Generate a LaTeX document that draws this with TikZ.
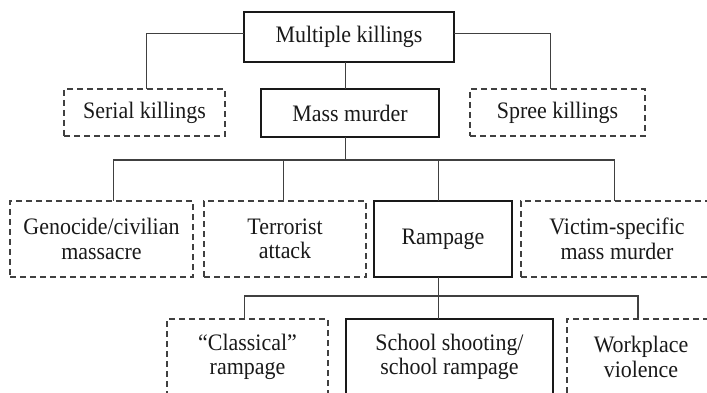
\documentclass[tikz,border=0pt]{standalone}
\usepackage{fontspec}
\setmainfont{Liberation Serif}[FakeStretch=0.93]
\begin{document}
\begin{tikzpicture}[x=1pt,y=-1pt,
  every node/.style={inner sep=0pt,outer sep=0pt,align=center,text=black!90,
    font=\fontsize{23.6}{24.5}\selectfont},
  mainbox/.style={draw=black!90,line width=2.6pt},
  subbox/.style={draw=black!75,line width=1.1pt,dash pattern=on 6pt off 4pt},
  conn/.style={draw=black!75,line width=1.2pt}]
\useasboundingbox (0,0) rectangle (707,393);
\clip (0,0) rectangle (707,393);
% row 1
\node[mainbox,minimum width=210pt,minimum height=50pt] (mk) at (349,37) {Multiple killings};
% row 2
\node[subbox,minimum width=161pt,minimum height=47pt] (sk) at (144.5,112.5) {Serial killings};
\node[mainbox,minimum width=178pt,minimum height=48pt] (mm) at (350,113) {Mass murder};
\node[subbox,minimum width=175pt,minimum height=47pt] (spk) at (557.5,112.5) {Spree killings};
% row 3
\node[subbox,minimum width=183pt,minimum height=76pt] (gen) at (101.5,239) {Genocide/civilian\\massacre};
\node[subbox,minimum width=162pt,minimum height=76pt] (ter) at (285,239) {Terrorist\\attack};
\node[mainbox,minimum width=138pt,minimum height=76pt] (ram) at (443,239) {Rampage};
\node[subbox,minimum width=192pt,minimum height=76pt] (vic) at (617,239) {Victim-specific\\mass murder};
% row 4
\node[subbox,minimum width=161pt,minimum height=76pt] (cla) at (247.5,357) {“Classical”\\rampage};
\node[mainbox,minimum width=207pt,minimum height=76pt] (sch) at (449.5,357) {School shooting/\\school rampage};
\node[subbox,minimum width=148pt,minimum height=76pt] (wor) at (641,357) {Workplace\\violence};
% junction coordinates
\coordinate (b1) at (345.7,160);
\coordinate (b2) at (438.3,296);
\coordinate (sktop) at ([xshift=2.2pt]sk.north);
\coordinate (sptop) at ([xshift=-7.2pt]spk.north);
\coordinate (gtop) at ([xshift=12pt]gen.north);
\coordinate (ttop) at ([xshift=-1.7pt]ter.north);
\coordinate (rtop) at ([xshift=-4.7pt]ram.north);
\coordinate (vtop) at ([xshift=-2.7pt]vic.north);
\coordinate (ctop) at ([xshift=-3.2pt]cla.north);
\coordinate (wtop) at ([xshift=-3pt]wor.north);
\coordinate (mkw) at ([yshift=3.7pt]mk.west);
\coordinate (mke) at ([yshift=3.7pt]mk.east);
% connectors
\draw[conn] (mkw) -| (sktop);
\draw[conn] (mke) -| (sptop);
\draw[conn] (mk.south -| b1) -- (mm.north -| b1);
\draw[conn] (mm.south -| b1) -- (b1);
\draw[conn] (gtop) |- (b1) -| (vtop);
\draw[conn] (b1 -| ttop) -- (ttop);
\draw[conn] (b1 -| rtop) -- (rtop);
\draw[conn] (ram.south -| b2) -- (sch.north -| b2);
\draw[conn] (ctop) |- (b2) -| (wtop);
\end{tikzpicture}
\end{document}
